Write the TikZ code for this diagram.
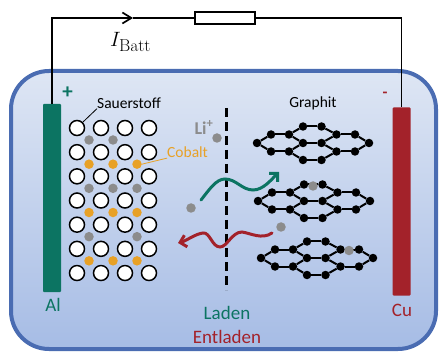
\documentclass[tikz,border=0pt]{standalone}
\usepackage[no-math]{fontspec}
\setmainfont{Carlito}
\usetikzlibrary{arrows.meta}
\DeclareMathSizes{20.74}{20.74}{17.28}{12}

\definecolor{cellblue}{HTML}{4A6CB2}
\definecolor{celltop}{HTML}{DEE6F4}
\definecolor{cellbot}{HTML}{A6BCE5}
\definecolor{algreen}{HTML}{0C7462}
\definecolor{cured}{HTML}{A3222A}
\definecolor{coorange}{HTML}{E8A126}
\definecolor{ligray}{HTML}{8C8C8C}

\tikzset{
  wire/.style={line width=1.7pt, black},
  electrode/.style={rectangle, inner sep=0pt, minimum width=18pt, minimum height=188pt, rounded corners=1pt},
  oatom/.style={circle, draw=black, fill=white, line width=1.5pt, minimum size=15pt, inner sep=0pt},
  iondot/.style={circle, inner sep=0pt, minimum size=9.5pt},
  catom/.style={circle, fill=black, inner sep=0pt, minimum size=8.5pt},
  bond/.style={line width=2pt, black},
  lbl/.style={font=\fontsize{15.5}{18}\selectfont, inner sep=0pt},
  biglbl/.style={font=\fontsize{19}{22}\selectfont, inner sep=0pt},
  wave/.style={line width=3pt, line cap=round, -{Straight Barb[length=6pt,width=12pt]}}
}

% one graphite layer (pyrene-like patch of four rings)
\newcommand\graphitelayer[3]{%
  \begin{scope}[shift={(#2,#3)}]
    \foreach \n/\px/\py in {A/0/0,B/14/-8.5,C/32/-8.5,D/14/8.5,E/32/8.5,
        P/46/0,F/46/-16.5,I/46/17,Q/64.5/0,G/64.5/-16.5,J/64.5/17,
        H/79.5/-8.5,K/79.5/8.5,L/98/-8.5,N/98/8.5,M/112/0}
      \node[catom] (#1\n) at (\px,\py) {};
    \foreach \a/\b in {A/B,B/C,C/P,P/E,E/D,D/A,C/F,F/G,G/H,H/Q,Q/P,
        E/I,I/J,J/K,K/Q,H/L,L/M,M/N,N/K}
      \draw[bond] (#1\a) -- (#1\b);
  \end{scope}}

\begin{document}
\begin{tikzpicture}[x=1pt,y=-1pt]
\useasboundingbox (0,0) rectangle (440,353);

% cell housing
\node[rectangle, inner sep=0pt, minimum width=425pt, minimum height=278pt,
      rounded corners=38pt, draw=cellblue, line width=4pt,
      top color=celltop, bottom color=cellbot] (cell) at (223.5,210) {};

% electrodes
\node[electrode, fill=algreen] (al) at (52,198) {};
\node[electrode, fill=cured] (cu) at (401.5,201.5) {};

% external circuit
\node[rectangle, draw=black, fill=white, line width=1.7pt, inner sep=0pt,
      minimum width=60pt, minimum height=12pt] (res) at (225,18) {};
\coordinate (itip) at (133,18);
\draw[wire, -{Straight Barb[length=9pt,width=11pt]}] (al.north) |- (itip);
\draw[wire] (itip) -- (res.west);
\draw[wire] (res.east) -| (cu.north);
\node[anchor=base west, inner sep=0pt, font=\fontsize{20.74}{24}\selectfont] (ibatt) at (110,46.5) {$I_{\mathrm{Batt}}$};

% polarity and electrode labels
\node[font=\fontsize{21}{22}\selectfont\bfseries, text=algreen, inner sep=0pt] (plus) at (67.5,92.5) {+};
\node[font=\fontsize{16}{18}\selectfont\bfseries, text=cured, inner sep=0pt] (minus) at (385,95) {-};
\node[biglbl, text=algreen] (altxt) at (53,305) {Al};
\node[biglbl, text=cured] (cutxt) at (402,310) {Cu};

% LiCoO2 lattice: oxygen layers
\foreach \r in {0,...,6}
  \foreach \c in {0,...,3}
    \node[oatom] (o\r\c) at ({77+24*\c},{128+24.17*\r}) {};
% lithium and cobalt between the oxygen layers
\foreach \r/\c/\col in {0/0/ligray,0/1/ligray,
    1/0/coorange,1/1/coorange,1/2/coorange,
    2/0/ligray,2/1/ligray,2/2/ligray,
    3/0/coorange,3/1/coorange,3/2/coorange,
    4/0/ligray,4/2/ligray,
    5/0/coorange,5/1/coorange,5/2/coorange}
  \node[iondot, fill=\col] (d\r\c) at ({89+24*\c},{140+24.17*\r}) {};

\node[lbl, anchor=west] (sauer) at (97,103) {Sauerstoff};
\draw[line width=0.8pt] (sauer.south west) -- (o00.north east);
\node[lbl, anchor=west, text=coorange] (cobalt) at (167,152.5) {Cobalt};
\draw[line width=0.8pt, coorange] (d12.east) -- (cobalt.south west);

% separator
\coordinate (septop) at (226,108);
\coordinate (sepbot) at (226,290);
\draw[line width=3pt, dash pattern=on 9pt off 5pt] (septop) -- (sepbot);

% lithium ions in the electrolyte
\node[font=\fontsize{18}{20}\selectfont\bfseries, text=ligray, inner sep=0pt] (litxt) at (204,127.5) {Li\textsuperscript{+}};
\node[iondot, fill=ligray] (li1) at (217,138) {};
\node[iondot, fill=ligray] (li2) at (191,208) {};
\node[iondot, fill=ligray] (li3) at (281,227) {};

% charge / discharge paths
\coordinate (gs) at (201,200);
\coordinate (ge) at (279,172);
\draw[wave, algreen] (gs) .. controls (209,190) and (216,179) .. (225,179)
  .. controls (236,179) and (242,190) .. (253,190)
  .. controls (263,190) and (271,180) .. (ge);
\coordinate (rs) at (272,233);
\coordinate (re) at (178,243);
\draw[wave, cured] (rs) .. controls (262,240) and (250,233) .. (242,232)
  .. controls (232,232) and (227,247) .. (220,247)
  .. controls (212,247) and (210,232) .. (203,233)
  .. controls (195,234) and (186,241) .. (re);

% graphite anode
\node[lbl] (graphit) at (313,103) {Graphit};
\graphitelayer{ga}{257}{143}
\graphitelayer{gb}{258}{201}
\graphitelayer{gc}{261}{258}
\node[iondot, fill=ligray] (li4) at (313,186) {};
\node[iondot, fill=ligray] (li5) at (349,250.5) {};

% mode labels
\node[biglbl, text=algreen] (laden) at (227,313) {Laden};
\node[biglbl, text=cured] (entladen) at (227,337) {Entladen};
\end{tikzpicture}
\end{document}
